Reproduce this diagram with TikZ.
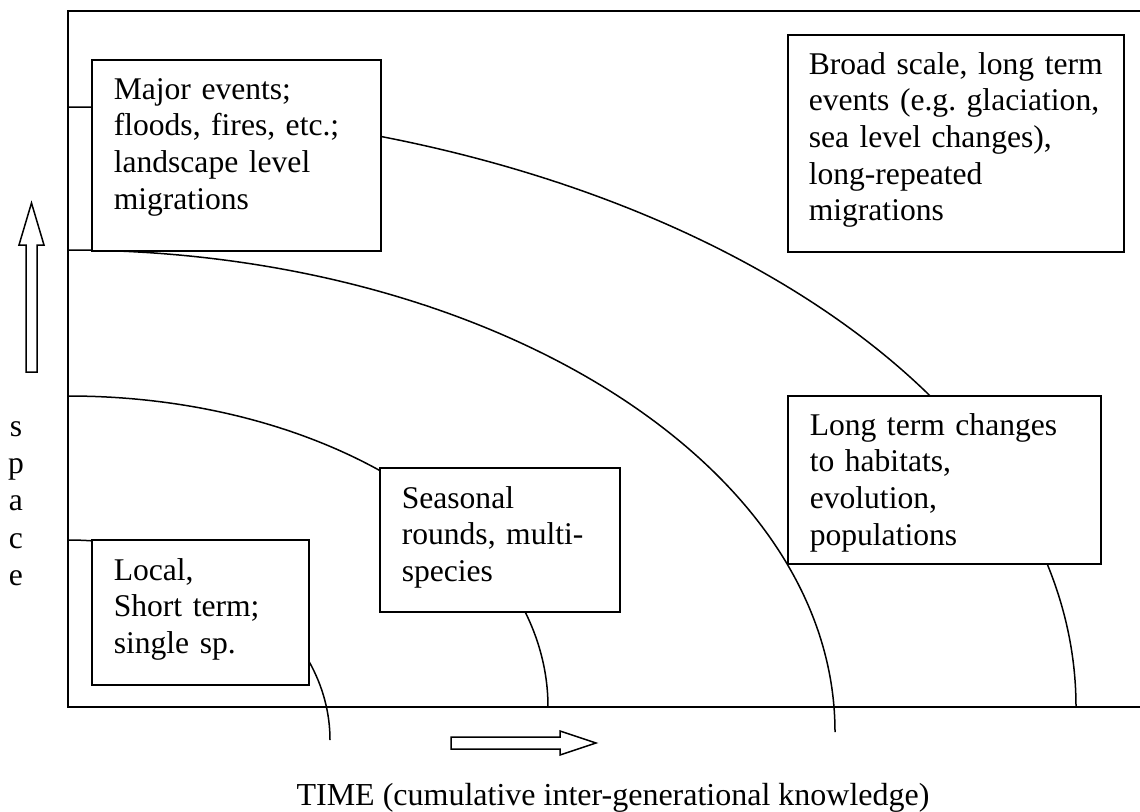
\documentclass[tikz,border=0pt]{standalone}
\usepackage{fontspec}
\setmainfont{Liberation Serif}
\usetikzlibrary{positioning}
\frenchspacing

\newcommand{\labelfont}{\fontsize{31.6}{36.7}\selectfont}

\begin{document}
\begin{tikzpicture}[x=1pt, y=-1pt, line width=1.5pt,
  box/.style={draw, fill=white, rectangle, anchor=north west, inner sep=0pt},
  boxtext/.style={anchor=base west, inner sep=0pt, text width=330pt, align=left, font=\labelfont}]
\useasboundingbox (0,0) rectangle (1140,811);

% frame
\draw (1140,11) -- (68,11) -- (68,707) -- (1140,707);

% scale arcs
\draw (68,540) arc[start angle=90, end angle=0, x radius=262pt, y radius=200pt];
\draw (68,396) arc[start angle=90, end angle=0, x radius=480pt, y radius=311pt];
\draw (68,250) arc[start angle=90, end angle=0, x radius=767pt, y radius=482pt];
\draw (68,107) arc[start angle=90, end angle=0, x radius=1008pt, y radius=600pt];

% boxes
\node[box, minimum width=289pt, minimum height=191pt] (major) at (91,59) {};
\node[box, minimum width=336pt, minimum height=217pt] (broad) at (787,34) {};
\node[box, minimum width=217pt, minimum height=145pt] (local) at (91,539) {};
\node[box, minimum width=240pt, minimum height=144pt] (seasonal) at (379,467) {};
\node[box, minimum width=313pt, minimum height=168pt] (longterm) at (787,395) {};

\node[boxtext] (majortxt) at ([shift={(22,40)}]major.north west) {Major events;\\floods, fires, etc.;\\landscape level\\migrations};
\node[boxtext] (broadtxt) at ([shift={(21,40)}]broad.north west) {Broad scale, long term\\events (e.g. glaciation,\\sea level changes),\\long-repeated\\migrations};
\node[boxtext] (localtxt) at ([shift={(22,41)}]local.north west) {Local,\\Short term;\\single sp.};
\node[boxtext] (seasonaltxt) at ([shift={(22,41)}]seasonal.north west) {Seasonal\\rounds, multi-\\species};
\node[boxtext] (longtermtxt) at ([shift={(22,40)}]longterm.north west) {Long term changes\\to habitats,\\evolution,\\populations};

% axes
\draw (26,372) -- (26,245) -- (19,245) -- (31.5,203) -- (44,245) -- (37,245) -- (37,372) -- cycle;
\draw (451,737) -- (560,737) -- (560,731) -- (596,743) -- (560,755) -- (560,749) -- (451,749) -- cycle;
\node[anchor=base, inner sep=0pt, text width=30pt, align=center, font={\fontsize{31.6}{37.4}\selectfont}] (space) at (16,436) {s\\p\\a\\c\\e};
\node[anchor=base, inner sep=0pt, font={\fontsize{32}{38}\selectfont}] (time) at (613,805) {TIME (cumulative inter-generational knowledge)};
\end{tikzpicture}
\end{document}
